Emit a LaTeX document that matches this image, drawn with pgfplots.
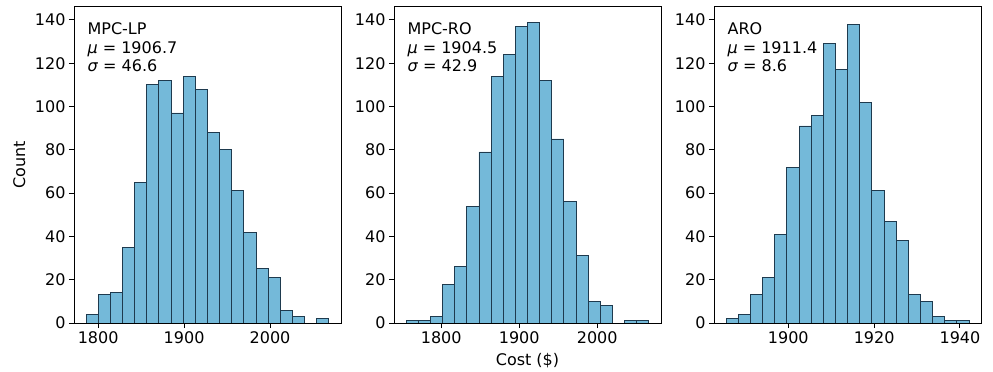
\documentclass[border=0pt]{standalone}
\usepackage{fontspec}
\setmainfont{DejaVu Sans}
\usepackage{pgfplots}
\pgfplotsset{compat=1.18}
\definecolor{barblue}{RGB}{116,185,217}
\definecolor{baredge}{RGB}{30,58,78}
\tikzset{
  anno/.style={anchor=north west, align=left, inner sep=0pt,
    font=\fontsize{16bp}{18.5bp}\selectfont},
}
\pgfplotsset{
  histax/.style={
    width=267bp, height=316bp, scale only axis,
    ymin=0, ymax=145.95,
    ytick={0,20,40,60,80,100,120,140},
    tick align=outside, tick pos=left,
    major tick length=5bp,
    axis line style={line width=1bp, black},
    every tick/.style={line width=1bp, black},
    tick label style={font=\fontsize{16bp}{18bp}\selectfont},
    label style={font=\fontsize{16bp}{18bp}\selectfont},
    /pgf/number format/assume math mode=true,
    /pgf/number format/1000 sep={},
    anchor=south west,
  },
  histbar/.style={ybar interval, fill=barblue, draw=baredge, line width=0.9bp},
}
\begin{document}
\begin{tikzpicture}
\path (0bp,0bp) rectangle (993bp,372bp);
% Panel 1: MPC-LP
\begin{axis}[histax, at={(74bp,49bp)},
  xmin=1771.9, xmax=2082.6, xtick={1800,1900,2000},
  ylabel={Count},
  ylabel style={at={(axis description cs:-0.205,0.5)}, anchor=center, rotate=0}]
\addplot[histbar] coordinates {
(1786.000,4) (1800.125,13) (1814.250,14) (1828.375,35) (1842.500,65)
(1856.625,110) (1870.750,112) (1884.875,97) (1899.000,114) (1913.125,108)
(1927.250,88) (1941.375,80) (1955.500,61) (1969.625,42) (1983.750,25)
(1997.875,21) (2012.000,6) (2026.125,3) (2040.250,0) (2054.375,2)
(2068.500,2)};
\node[anno] at (axis description cs:0.05,0.95) {MPC-LP\\\textit{μ} = 1906.7\\\textit{σ} = 46.6};
\end{axis}
% Panel 2: MPC-RO
\begin{axis}[histax, at={(394bp,49bp)},
  xmin=1739.5, xmax=2081.8, xtick={1800,1900,2000},
  xlabel={Cost (\$)},
  xlabel style={at={(axis description cs:0.5,-0.118)}, anchor=center}]
\addplot[histbar] coordinates {
(1755.10,1) (1770.66,1) (1786.21,3) (1801.77,18) (1817.32,26)
(1832.88,54) (1848.43,79) (1863.99,114) (1879.54,124) (1895.10,137)
(1910.65,139) (1926.21,112) (1941.76,85) (1957.32,56) (1972.87,31)
(1988.43,10) (2003.98,8) (2019.54,0) (2035.09,1) (2050.65,1)
(2066.20,1)};
\node[anno] at (axis description cs:0.05,0.95) {MPC-RO\\\textit{μ} = 1904.5\\\textit{σ} = 42.9};
\end{axis}
% Panel 3: ARO
\begin{axis}[histax, at={(714bp,49bp)},
  xmin=1882.7, xmax=1944.9, xtick={1900,1920,1940}]
\addplot[histbar] coordinates {
(1885.55,2) (1888.38,4) (1891.21,13) (1894.03,21) (1896.86,41)
(1899.69,72) (1902.52,91) (1905.34,96) (1908.17,129) (1911.00,117)
(1913.83,138) (1916.65,102) (1919.48,61) (1922.31,47) (1925.14,38)
(1927.96,13) (1930.79,10) (1933.62,3) (1936.45,1) (1939.27,1)
(1942.10,1)};
\node[anno] at (axis description cs:0.05,0.95) {ARO\\\textit{μ} = 1911.4\\\textit{σ} = 8.6};
\end{axis}
\end{tikzpicture}
\end{document}
